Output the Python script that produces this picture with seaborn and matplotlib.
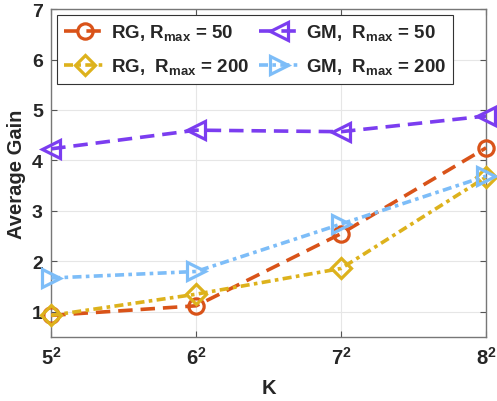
import numpy as np
import pandas as pd
import seaborn as sns
import matplotlib.pyplot as plt

k_labels = [r"$\mathbf{5^2}$", r"$\mathbf{6^2}$", r"$\mathbf{7^2}$", r"$\mathbf{8^2}$"]
rg_50 = [0.93, 1.12, 2.55, 4.25]
rg_200 = [0.93, 1.35, 1.86, 3.67]
gm_50 = [4.23, 4.60, 4.57, 4.88]
gm_200 = [1.67, 1.80, 2.74, 3.69]

names = [r"RG, $\mathbf{R_{max}}$ = 50", r"RG,  $\mathbf{R_{max}}$ = 200",
         r"GM,  $\mathbf{R_{max}}$ = 50", r"GM,  $\mathbf{R_{max}}$ = 200"]
series = [rg_50, rg_200, gm_50, gm_200]
colors = ["#D95319", "#DDB21C", "#7B3DF0", "#7DBDF8"]
markers = ["o", "D", "<", ">"]
msizes = [11, 10, 13, 13]
dashes = [(4, 2.2), (2.5, 1.2, 1, 1.2), (4, 2.2), (2.5, 1.2, 1, 1.2)]

sns.set_style("whitegrid")
plt.rcParams["font.family"] = ["Liberation Sans", "DejaVu Sans"]
plt.rcParams["font.weight"] = "bold"
plt.rcParams["mathtext.fontset"] = "custom"
plt.rcParams["mathtext.bf"] = "Liberation Sans:bold"
plt.rcParams["mathtext.rm"] = "Liberation Sans:bold"

fig = plt.figure(figsize=(4.97, 4.02), dpi=100)
ax = fig.add_axes([0.103, 0.159, 0.875, 0.816])

xs = np.arange(len(k_labels))
for name, vals, c, m, ms, d in zip(names, series, colors, markers, msizes, dashes):
    sns.lineplot(x=xs, y=vals, ax=ax, color=c, marker=m, markersize=ms,
                 markerfacecolor="none", markeredgecolor=c, markeredgewidth=2.3,
                 linewidth=2.6, dashes=d, label=name, clip_on=False, zorder=3)
for ln, d in zip(ax.lines, dashes):
    ln.set_dashes(d)

ax.set_xlim(0, 3)
ax.set_ylim(0.5, 7)
ax.set_xticks(xs)
ax.set_xticklabels(k_labels, fontsize=14.5)
ax.set_yticks([1, 2, 3, 4, 5, 6, 7])
ax.tick_params(axis="y", labelsize=14)
ax.tick_params(direction="in", length=4, color="#555555", top=True, right=True,
               left=True, bottom=True, pad=6)
ax.grid(True, color="#E6E6E6", linewidth=0.8)
for s in ax.spines.values():
    s.set_color("#777777")
    s.set_linewidth(1)
ax.set_xlabel("K", fontsize=14.5, fontweight="bold", labelpad=8)
ax.set_ylabel("Average Gain", fontsize=14.5, fontweight="bold", labelpad=4)

leg = ax.legend(loc="upper left", ncol=2, fontsize=13.5, frameon=True, fancybox=False,
                edgecolor="#333333", framealpha=1, handlelength=2.2, handletextpad=0.3,
                columnspacing=0.5, borderaxespad=0.3, borderpad=0.4, labelspacing=0.75)
leg.get_frame().set_linewidth(0.8)

fig.savefig("out.png", dpi=100)
